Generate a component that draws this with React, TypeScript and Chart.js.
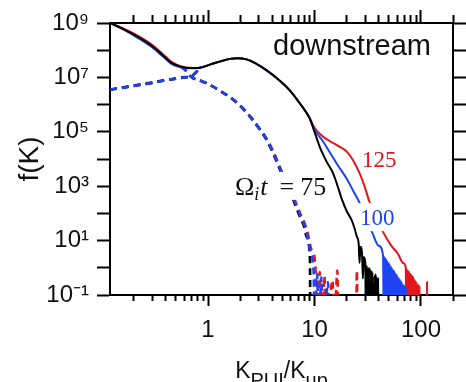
import React, { useEffect, useRef } from 'react';
import { Chart, registerables } from 'chart.js';

Chart.register(...registerables);

// ---- series meta ----
const seriesTimes = [75, 100, 125];
const seriesColors = ['#000000', '#1d43f2', '#e3161b'];

// ---- axis ticks ----
const xMajorTicks = [1, 10, 100];
const xMinorTicks = [0.2, 0.3, 0.4, 0.5, 0.6, 0.7, 0.8, 0.9, 2, 3, 4, 5, 6, 7, 8, 9, 20, 30, 40, 50, 60, 70, 80, 90, 200];
const yDecadeTicks = [0.1, 1, 10, 1e2, 1e3, 1e4, 1e5, 1e6, 1e7, 1e8, 1e9];

// ---- total distributions (solid) ----
const kBlack = [0.12, 0.16, 0.22, 0.3, 0.38, 0.45, 0.52, 0.6, 0.7, 0.8, 0.95, 1.16, 1.4, 1.6, 1.9, 2.3, 2.8, 3.5, 4.5, 5.8, 7.3, 9.0, 10, 11.2, 13, 14.9, 16.5, 18, 20, 22.4, 24, 25, 26, 26.5, 27, 28, 28.5, 29, 30, 30.5, 31, 31.5, 32, 32.5, 33, 33.5, 34, 34.5, 35, 35.5, 36.5, 37, 37.5, 38, 38.5, 39, 39.5, 40];
const fBlack = [1e9, 6.0e8, 3.1e8, 1.4e8, 6.3e7, 3.5e7, 2.7e7, 2.3e7, 2.2e7, 2.2e7, 2.6e7, 3.4e7, 4.2e7, 4.8e7, 5.1e7, 4.6e7, 3.3e7, 1.9e7, 8.9e6, 3.5e6, 1.1e6, 3.1e5, 1.0e5, 2.8e4, 8.0e3, 3.1e3, 1.0e3, 350, 125, 55, 25, 14, 8, 1.5, 6, 3, 0.4, 2.5, 1.6, 0.001, 1.2, 0.001, 1.0, 0.001, 1.0, 0.001, 0.8, 0.001, 0.7, 0.001, 0.5, 0.001, 0.6, 0.001, 0.45, 0.001, 0.4, 0.001];

const kBlue = [0.12, 0.16, 0.22, 0.3, 0.38, 0.45, 0.52, 0.6, 0.7, 0.8, 0.95, 1.16, 1.4, 1.6, 1.9, 2.3, 2.8, 3.5, 4.5, 5.8, 7.3, 9.0, 10, 12, 14, 16.5, 19.9, 23, 26.3, 30, 34.8, 40, 44, 45, 45.6, 46.2, 46.8, 47.4, 48, 48.6, 49.2, 49.8, 50.4, 51, 51.6, 52.2, 52.8, 53.4, 54, 54.7, 55.4, 56.1, 56.8, 57.5, 58.2, 58.9, 59.6, 60.3, 61, 61.8, 62.6, 63.4, 64.2, 65, 66, 67, 68, 69, 70, 71.5, 73, 75, 76];
const fBlue = [1e9, 5.8e8, 2.8e8, 1.25e8, 5.7e7, 3.2e7, 2.5e7, 2.2e7, 2.15e7, 2.2e7, 2.6e7, 3.4e7, 4.2e7, 4.8e7, 5.1e7, 4.6e7, 3.3e7, 1.9e7, 8.9e6, 3.5e6, 1.1e6, 3.2e5, 1.2e5, 4.5e4, 1.7e4, 6.0e3, 2.0e3, 700, 260, 68, 20, 6.5, 3.0, 0.001, 2.6, 0.001, 2.2, 0.001, 1.9, 0.001, 1.6, 0.001, 1.5, 0.001, 1.2, 0.001, 1.1, 0.001, 0.9, 0.001, 0.85, 0.001, 0.7, 0.001, 0.6, 0.001, 0.55, 0.001, 0.45, 0.001, 0.4, 0.001, 0.35, 0.001, 0.3, 0.001, 0.25, 0.001, 0.22, 0.001, 0.18, 0.001, 0.001];

const kRed = [0.12, 0.16, 0.22, 0.3, 0.38, 0.45, 0.52, 0.6, 0.7, 0.8, 0.95, 1.16, 1.4, 1.6, 1.9, 2.3, 2.8, 3.5, 4.5, 5.8, 7.3, 9.0, 10, 12.1, 14, 16.5, 20, 23, 26.5, 29.5, 32.7, 38, 44, 52, 61, 68, 72, 73, 74, 75, 76, 77, 78, 79, 80, 81, 82, 83, 84, 85, 86, 87, 88, 89.5, 91, 92.5, 94, 95.5, 97, 98.5, 100, 113, 114, 115];
const fRed = [1e9, 6.3e8, 3.35e8, 1.55e8, 7.0e7, 3.8e7, 2.8e7, 2.35e7, 2.25e7, 2.2e7, 2.6e7, 3.4e7, 4.2e7, 4.8e7, 5.1e7, 4.6e7, 3.3e7, 1.9e7, 8.9e6, 3.5e6, 1.1e6, 3.3e5, 1.4e5, 6.5e4, 4.5e4, 3.1e4, 1.9e4, 9.0e3, 3.0e3, 1.0e3, 280, 75, 21, 7, 3.2, 1.5, 1.0, 0.001, 0.9, 0.001, 0.8, 0.001, 0.7, 0.001, 0.6, 0.001, 0.55, 0.001, 0.5, 0.001, 0.4, 0.001, 0.35, 0.001, 0.3, 0.001, 0.25, 0.001, 0.22, 0.001, 0.001, 0.001, 0.3, 0.001];

// ---- component A (dashed, rising at low K) ----
const kDashA = [0.12, 0.16, 0.22, 0.3, 0.4, 0.5, 0.6, 0.68, 0.74, 0.8, 0.86];
const fDashABlack = [3.5e6, 4.2e6, 5.2e6, 6.3e6, 7.9e6, 8.9e6, 1.0e7, 1.05e7, 1.3e7, 1.8e7, 2.3e7];
const fDashABlue = [3.5e6, 4.2e6, 5.2e6, 6.3e6, 7.9e6, 8.9e6, 1.0e7, 1.05e7, 1.3e7, 1.8e7, 2.3e7];
const fDashARed = [3.6e6, 4.3e6, 5.4e6, 6.6e6, 8.2e6, 9.2e6, 1.03e7, 1.07e7, 1.3e7, 1.8e7, 2.3e7];

// ---- component B (dashed, falling at high K) ----
const kDashBBlack = [0.56, 0.61, 0.66, 0.72, 0.8, 0.97, 1.3, 1.73, 2.1, 2.48, 3.0, 3.55, 4.1, 4.74, 5.5, 6.33, 7.3, 8.0, 8.43, 9.07, 9.15];
const fDashBBlack = [2.5e7, 1.9e7, 1.25e7, 9.5e6, 8.3e6, 6.1e6, 3.2e6, 1.5e6, 7.4e5, 3.6e5, 1.35e5, 5.0e4, 1.6e4, 4.0e3, 1.0e3, 310, 74, 32, 13.8, 1.95, 0.001];
const kDashBBlue = [0.56, 0.61, 0.66, 0.72, 0.8, 0.97, 1.3, 1.73, 2.1, 2.48, 3.0, 3.55, 4.1, 4.74, 5.5, 6.33, 7.3, 8.0, 8.5, 9.2, 9.8, 10.1, 10.6, 11, 11.6, 12, 13.4, 13.8];
const fDashBBlue = [2.5e7, 1.9e7, 1.25e7, 9.5e6, 8.3e6, 6.1e6, 3.2e6, 1.5e6, 7.6e5, 3.7e5, 1.4e5, 5.3e4, 1.75e4, 4.5e3, 1.15e3, 370, 90, 40, 17, 3.5, 0.8, 0.001, 0.6, 0.001, 0.45, 0.001, 0.3, 0.001];
const kDashBRed = [0.56, 0.61, 0.66, 0.72, 0.8, 0.97, 1.3, 1.73, 2.1, 2.48, 3.0, 3.55, 4.1, 4.74, 5.5, 6.33, 7.3, 8.0, 8.6, 9.4, 10.2, 10.5, 11.2, 11.6, 12.4, 12.8, 14.8, 15.2, 16.4, 16.8, 24.6, 25, 25.4];
const fDashBRed = [2.5e7, 1.9e7, 1.25e7, 9.5e6, 8.3e6, 6.1e6, 3.2e6, 1.5e6, 7.8e5, 3.8e5, 1.45e5, 5.6e4, 1.9e4, 5.0e3, 1.3e3, 420, 105, 48, 20, 4.5, 1.2, 0.001, 0.7, 0.001, 0.5, 0.001, 0.35, 0.001, 0.8, 0.001, 0.001, 0.8, 0.001];

// ---- annotation anchors (data coordinates) ----
const noteDownstream = { k: 4.08, f: 6.6e7 };
const note125 = { k: 27.9, f: 5.1e3 };
const note100 = { k: 26.8, f: 37 };
const note75 = { k: 1.79, f: 480 };

const SUP: Record<string, string> = { '-': '⁻', '0': '⁰', '1': '¹', '2': '²', '3': '³', '4': '⁴', '5': '⁵', '6': '⁶', '7': '⁷', '8': '⁸', '9': '⁹' };
const sup = (n: number) => String(n).split('').map((c) => SUP[c] || c).join('');

const SANS = '"Liberation Sans", Arial, sans-serif';
const SERIF = '"Liberation Serif", "Times New Roman", serif';

const pts = (k: number[], f: number[]) => k.map((x, i) => ({ x, y: f[i] }));

const solidDs = (label: string, k: number[], f: number[], color: string) => ({
  label,
  data: pts(k, f),
  borderColor: color,
  backgroundColor: color,
  borderWidth: 2,
  pointRadius: 0,
  fill: false,
  cubicInterpolationMode: 'monotone' as const,
});
const dashDs = (label: string, k: number[], f: number[], color: string, offset = 0) => ({
  label,
  data: pts(k, f),
  borderColor: color,
  backgroundColor: color,
  borderWidth: 2.6,
  borderDash: [7, 5],
  borderDashOffset: offset,
  pointRadius: 0,
  fill: false,
  cubicInterpolationMode: 'monotone' as const,
});

const setTicks = (vals: number[]) => (scale: any) => {
  scale.ticks = vals.map((v) => ({ value: v }));
};

const annotPlugin = {
  id: 'annot',
  afterDatasetsDraw(chart: any) {
    const { ctx } = chart;
    const xs = chart.scales.x;
    const ys = chart.scales.y;
    const px = (v: number) => xs.getPixelForValue(v);
    const py = (v: number) => ys.getPixelForValue(v);
    ctx.save();
    ctx.textBaseline = 'alphabetic';
    ctx.textAlign = 'left';

    // "downstream"
    ctx.font = `29px ${SANS}`;
    ctx.fillStyle = '#111';
    ctx.fillText('downstream', px(noteDownstream.k), py(noteDownstream.f));

    // 125 label
    ctx.font = `23px ${SERIF}`;
    ctx.fillStyle = seriesColors[2];
    ctx.fillText(String(seriesTimes[2]), px(note125.k), py(note125.f));

    // 100 label with white backing
    const t100 = String(seriesTimes[1]);
    const x100 = px(note100.k);
    const y100 = py(note100.f);
    const w100 = ctx.measureText(t100).width;
    ctx.fillStyle = '#ffffff';
    ctx.fillRect(x100 - 4, y100 - 22, w100 + 8, 28);
    ctx.fillStyle = seriesColors[1];
    ctx.fillText(t100, x100, y100);

    // Ω_i t = 75 with white backing
    const x0 = px(note75.k);
    const y = py(note75.f);
    ctx.fillStyle = '#ffffff';
    ctx.fillRect(x0 + 40, y - 23, 56, 28);
    let x = x0;
    ctx.fillStyle = '#111';
    ctx.font = `26px ${SERIF}`;
    ctx.fillText('Ω', x, y);
    x += ctx.measureText('Ω').width;
    ctx.font = `italic 18px ${SERIF}`;
    ctx.fillText('i', x, y + 5);
    x += ctx.measureText('i').width + 1;
    ctx.font = `italic 26px ${SERIF}`;
    ctx.fillText('t', x, y);
    x += ctx.measureText('t').width + 12;
    ctx.font = `26px ${SERIF}`;
    ctx.fillText('=', x, y);
    x += ctx.measureText('=').width + 6;
    ctx.fillText(String(seriesTimes[0]), x, y);
    ctx.restore();
  },
  afterDraw(chart: any) {
    const { ctx, chartArea } = chart;
    ctx.save();
    ctx.fillStyle = '#111';
    ctx.textBaseline = 'alphabetic';
    ctx.textAlign = 'left';
    const parts: [string, number, number][] = [
      ['K', 23, 0],
      ['PUI', 20, 8.5],
      ['/K', 23, 0],
      ['up', 20, 8.5],
    ];
    let total = 0;
    for (const [t, s] of parts) {
      ctx.font = `${s}px ${SANS}`;
      total += ctx.measureText(t).width;
    }
    let x = (chartArea.left + chartArea.right) / 2 - total / 2;
    const base = 378;
    for (const [t, s, dy] of parts) {
      ctx.font = `${s}px ${SANS}`;
      ctx.fillText(t, x, base + dy);
      x += ctx.measureText(t).width;
    }
    ctx.restore();
  },
};

export default function App() {
  const ref = useRef<HTMLCanvasElement>(null);
  useEffect(() => {
    const canvas = ref.current!;
    const axisGrid = (len: number) => ({
      display: true,
      drawOnChartArea: false,
      drawTicks: true,
      tickLength: len,
      tickWidth: 2,
      tickColor: '#000',
      color: '#000',
    });
    const xBase = { type: 'logarithmic' as const, min: 0.12, max: 200 };
    const yBase = { type: 'logarithmic' as const, min: 0.1, max: 1e9 };
    const chart = new Chart(canvas, {
      type: 'line',
      data: {
        datasets: [
          solidDs(`t${seriesTimes[0]}`, kBlack, fBlack, seriesColors[0]),
          solidDs(`t${seriesTimes[1]}`, kBlue, fBlue, seriesColors[1]),
          solidDs(`t${seriesTimes[2]}`, kRed, fRed, seriesColors[2]),
          dashDs('A blue', kDashA, fDashABlue, seriesColors[1]),
          dashDs('A black', kDashA, fDashABlack, seriesColors[0]),
          dashDs('A red', kDashA, fDashARed, seriesColors[2]),
          dashDs('B blue', kDashBBlue, fDashBBlue, seriesColors[1]),
          dashDs('B black', kDashBBlack, fDashBBlack, seriesColors[0]),
          dashDs('B red', kDashBRed, fDashBRed, seriesColors[2]),
        ] as any,
      },
      options: {
        animation: false,
        responsive: false,
        devicePixelRatio: 1,
        layout: { padding: 0 },
        plugins: { legend: { display: false }, tooltip: { enabled: false }, title: { display: false } },
        elements: { line: { tension: 0 } },
        scales: {
          x: {
            ...xBase,
            position: 'bottom',
            weight: 10,
            afterBuildTicks: setTicks(xMajorTicks),
            afterFit: (s: any) => { s.height = 87; },
            ticks: {
              autoSkip: false,
              maxRotation: 0,
              padding: 10,
              color: '#111',
              font: { family: SANS, size: 24 },
              callback: (v: any) => String(v),
            },
            grid: axisGrid(11),
            border: { display: true, color: '#000', width: 2 },
          },
          xm: {
            ...xBase,
            position: 'bottom',
            weight: 0,
            afterBuildTicks: setTicks(xMinorTicks),
            afterFit: (s: any) => { s.height = 0; },
            ticks: { display: false, autoSkip: false },
            grid: axisGrid(6),
            border: { display: false },
          },
          xT: {
            ...xBase,
            position: 'top',
            weight: 10,
            afterBuildTicks: setTicks(xMajorTicks),
            afterFit: (s: any) => { s.height = 23; },
            ticks: { display: false, autoSkip: false },
            grid: axisGrid(13),
            border: { display: true, color: '#000', width: 2 },
          },
          xTm: {
            ...xBase,
            position: 'top',
            weight: 0,
            afterBuildTicks: setTicks(xMinorTicks),
            afterFit: (s: any) => { s.height = 0; },
            ticks: { display: false, autoSkip: false },
            grid: axisGrid(8),
            border: { display: false },
          },
          y: {
            ...yBase,
            position: 'left',
            afterBuildTicks: setTicks(yDecadeTicks),
            afterFit: (s: any) => { s.width = 110; },
            ticks: {
              autoSkip: false,
              padding: 8,
              color: '#111',
              font: { family: SANS, size: 24 },
              callback: (v: any) => {
                const e = Math.round(Math.log10(Number(v)));
                return e % 2 !== 0 ? '10' + sup(e) : '';
              },
            },
            grid: axisGrid(13),
            border: { display: true, color: '#000', width: 2 },
            title: {
              display: true,
              text: 'f(K)',
              color: '#111',
              font: { family: SANS, size: 28 },
              padding: { top: 13, bottom: 0 },
            },
          },
          yR: {
            ...yBase,
            position: 'right',
            afterBuildTicks: setTicks(yDecadeTicks),
            afterFit: (s: any) => { s.width = 13; },
            ticks: { display: false, autoSkip: false },
            grid: axisGrid(13),
            border: { display: true, color: '#000', width: 2 },
          },
        } as any,
      },
      plugins: [annotPlugin],
    });
    return () => chart.destroy();
  }, []);
  return (
    <div style={{ position: 'fixed', left: 0, top: 0, width: 466, height: 382, background: '#fff' }}>
      <canvas ref={ref} width={466} height={382} style={{ display: 'block', width: 466, height: 382 }} />
    </div>
  );
}
